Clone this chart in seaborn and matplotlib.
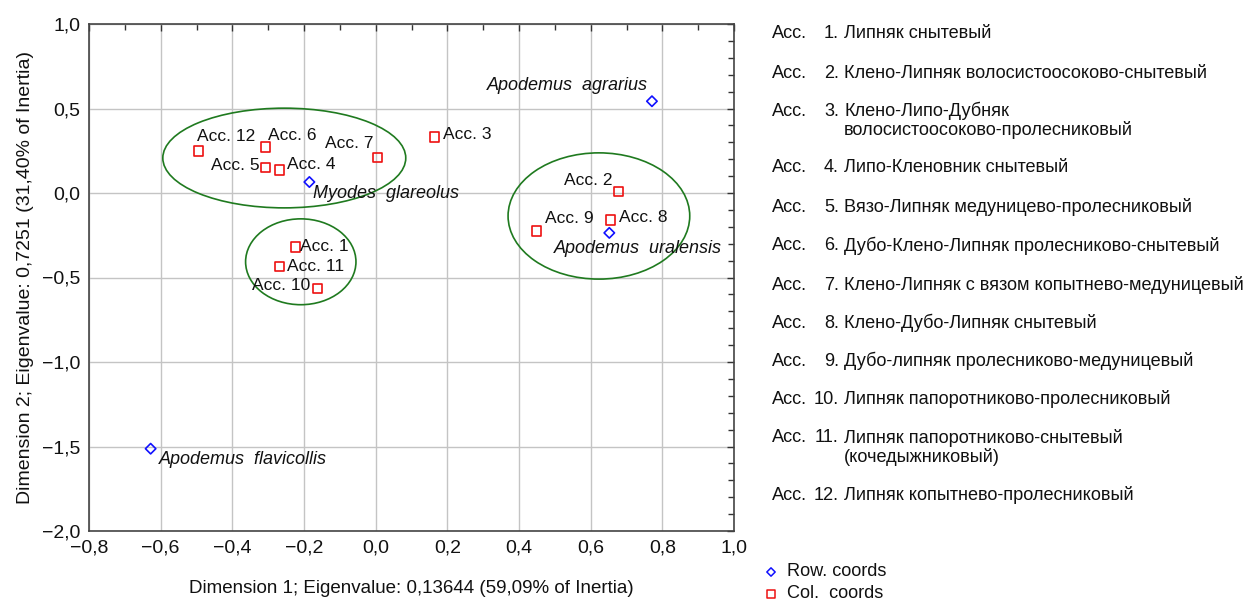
import matplotlib
matplotlib.use("Agg")
import matplotlib.pyplot as plt
from matplotlib.patches import Ellipse
from matplotlib.ticker import MultipleLocator, FuncFormatter
import seaborn as sns
import pandas as pd

# ---------------- data ----------------
col_labels = ["Acc. 1", "Acc. 2", "Acc. 3", "Acc. 4", "Acc. 5", "Acc. 6",
              "Acc. 7", "Acc. 8", "Acc. 9", "Acc. 10", "Acc. 11", "Acc. 12"]
col_x = [-0.224, 0.677, 0.165, -0.269, -0.308, -0.308, 0.005, 0.656, 0.449, -0.163, -0.269, -0.495]
col_y = [-0.319, 0.008, 0.332, 0.136, 0.149, 0.272, 0.212, -0.159, -0.224, -0.567, -0.435, 0.248]

row_labels = ["Apodemus  agrarius", "Myodes  glareolus", "Apodemus  uralensis", "Apodemus  flavicollis"]
row_x = [0.771, -0.185, 0.652, -0.628]
row_y = [0.543, 0.065, -0.236, -1.513]

ellipse_cx = [-0.255, -0.209, 0.623]
ellipse_cy = [0.207, -0.407, -0.136]
ellipse_w = [0.678, 0.308, 0.507]
ellipse_h = [0.590, 0.508, 0.747]

assoc_numbers = ["1.", "2.", "3.", "4.", "5.", "6.", "7.", "8.", "9.", "10.", "11.", "12."]
assoc_names = [
    "Липняк снытевый",
    "Клено-Липняк волосистоосоково-снытевый",
    "Клено-Липо-Дубняк\nволосистоосоково-пролесниковый",
    "Липо-Кленовник снытевый",
    "Вязо-Липняк медуницево-пролесниковый",
    "Дубо-Клено-Липняк пролесниково-снытевый",
    "Клено-Липняк с вязом копытнево-медуницевый",
    "Клено-Дубо-Липняк снытевый",
    "Дубо-липняк пролесниково-медуницевый",
    "Липняк папоротниково-пролесниковый",
    "Липняк папоротниково-снытевый\n(кочедыжниковый)",
    "Липняк копытнево-пролесниковый",
]

x_label = "Dimension 1; Eigenvalue: 0,13644 (59,09% of Inertia)"
y_label = "Dimension 2; Eigenvalue: 0,7251 (31,40% of Inertia)"
legend_labels = ["Row. coords", "Col.  coords"]

# ---------------- style ----------------
sns.set_style("white")
plt.rcParams["font.family"] = ["Liberation Sans", "DejaVu Sans"]

# label offsets in pixels (dx, dy, ha)
col_offsets = [(5, 0, "left"), (-6, 11, "right"), (8, 2, "left"), (8, 6, "left"),
               (-6, 2, "right"), (3, 12, "left"), (-4, 14, "right"), (8, 2, "left"),
               (8, 12, "left"), (-7, 3, "right"), (8, 0, "left"), (-1, 15, "left")]
row_offsets = [(-4, 16, "right"), (4, -11, "left"), (-55, -16, "left"), (8, -11, "left")]

W, H = 1253, 600
fig = plt.figure(figsize=(W / 100, H / 100), dpi=100)
ax = fig.add_axes([89 / W, 1 - 531 / H, (734 - 89) / W, (531 - 24) / H])

df_col = pd.DataFrame({"x": col_x, "y": col_y, "kind": "Col. coords"})
df_row = pd.DataFrame({"x": row_x, "y": row_y, "kind": "Row. coords"})

for i in range(len(ellipse_cx)):
    ax.add_patch(Ellipse((ellipse_cx[i], ellipse_cy[i]), ellipse_w[i], ellipse_h[i],
                         fill=False, edgecolor="#1f7a1f", lw=1.2, zorder=2))

sns.scatterplot(data=df_row, x="x", y="y", marker="D", s=28, facecolor="none",
                edgecolor="#1010ff", linewidth=1.2, ax=ax, zorder=4, legend=False)
sns.scatterplot(data=df_col, x="x", y="y", marker="s", s=45, facecolor="none",
                edgecolor="#ee1111", linewidth=1.2, ax=ax, zorder=4, legend=False)

for lab, x, y, (dx, dy, ha) in zip(col_labels, col_x, col_y, col_offsets):
    ax.annotate(lab, (x, y), xytext=(dx, dy), textcoords="offset pixels",
                ha=ha, va="center", fontsize=12.5, color="#111111", zorder=5)
for lab, x, y, (dx, dy, ha) in zip(row_labels, row_x, row_y, row_offsets):
    ax.annotate(lab, (x, y), xytext=(dx, dy), textcoords="offset pixels",
                ha=ha, va="center", fontsize=13, style="italic", color="#111111", zorder=5)

ax.set_xlim(-0.8, 1.0)
ax.set_ylim(-2.0, 1.0)
ax.xaxis.set_major_locator(MultipleLocator(0.2))
ax.xaxis.set_minor_locator(MultipleLocator(0.1))
ax.yaxis.set_major_locator(MultipleLocator(0.5))
ax.yaxis.set_minor_locator(MultipleLocator(0.1))

def fmt(v, pos):
    s = f"{abs(v):.1f}".replace(".", ",")
    return ("\u2212" + s) if v < -1e-9 else s

ax.xaxis.set_major_formatter(FuncFormatter(fmt))
ax.yaxis.set_major_formatter(FuncFormatter(fmt))
ax.grid(True, which="major", color="#c4c4c4", lw=1.0, zorder=0)
ax.set_axisbelow(True)
ax.tick_params(which="both", direction="in", top=True, right=True, colors="#333333",
               labelcolor="#111111", labelsize=14, width=1.0)
ax.tick_params(which="major", length=5, pad=6)
ax.tick_params(which="minor", length=4)
for sp in ax.spines.values():
    sp.set_color("#444444")
    sp.set_linewidth(1.2)

ax.set_xlabel(x_label, fontsize=13.5, labelpad=17, color="#111111")
ax.set_ylabel(y_label, fontsize=14, labelpad=6, color="#111111")

# right-side association list
list_y = [33, 73, 111, 168, 207, 246, 285, 323, 361, 399, 438, 495]
fs_list = 13.1
for num, name, yy in zip(assoc_numbers, assoc_names, list_y):
    fy = 1 - yy / H
    fig.text(772 / W, fy, "Асс.", fontsize=fs_list, va="center", ha="left", color="#111111")
    fig.text(839 / W, fy, num, fontsize=fs_list, va="center", ha="right", color="#111111")
    for k, ln in enumerate(name.split("\n")):
        fig.text(844 / W, 1 - (yy + 19 * k) / H, ln, fontsize=fs_list, va="center",
                 ha="left", color="#111111")

# bottom legend
fig.text(787 / W, 1 - 572 / H, legend_labels[0], fontsize=fs_list, va="center", ha="left", color="#111111")
fig.text(787 / W, 1 - 593 / H, legend_labels[1], fontsize=fs_list, va="center", ha="left", color="#111111")
lax = fig.add_axes([0, 0, 1, 1], facecolor="none")
lax.set_xlim(0, W)
lax.set_ylim(H, 0)
lax.axis("off")
lax.scatter([771], [572], marker="D", s=18, facecolor="none", edgecolor="#1010ff", linewidth=1.1)
lax.scatter([771], [594], marker="s", s=30, facecolor="none", edgecolor="#ee1111", linewidth=1.1)

fig.savefig("out.png", dpi=100, facecolor="white")
